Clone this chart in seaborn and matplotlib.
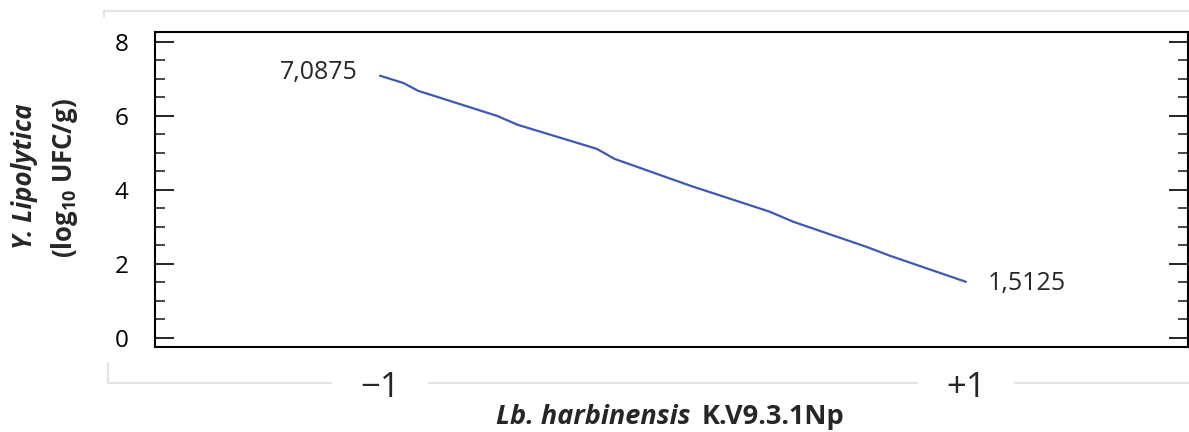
import matplotlib.pyplot as plt
import pandas as pd
import seaborn as sns
from matplotlib.lines import Line2D
from matplotlib.ticker import MultipleLocator

sns.set_style("white")
plt.rcParams['font.family'] = ['Open Sans', 'DejaVu Sans']
plt.rcParams['mathtext.fontset'] = 'custom'
plt.rcParams['mathtext.bf'] = 'Open Sans:bold'
plt.rcParams['mathtext.rm'] = 'Open Sans:bold'
plt.rcParams['mathtext.default'] = 'bf'

# values
harbinensis = [-1.0, -0.92, -0.87, -0.60, -0.53, -0.26, -0.20, 0.06, 0.33, 0.41, 0.66, 0.74, 1.0]
lipolytica = [7.0875, 6.89, 6.68, 6.00, 5.76, 5.11, 4.84, 4.11, 3.41, 3.14, 2.46, 2.22, 1.5125]
x_ticks = [-1, 1]
x_ticklabels = ['\u22121', '+1']
start_label = '7,0875'
end_label = '1,5125'

df = pd.DataFrame({'x': harbinensis, 'y': lipolytica})

fig = plt.figure(figsize=(11.89, 4.32), dpi=100)
ax = fig.add_axes([155 / 1189, 1 - 347 / 432, 1033 / 1189, 315 / 432])

sns.lineplot(data=df, x='x', y='y', ax=ax, color='#3a5ab4', linewidth=1.6, sort=False)

ax.set_xlim(-1.768, 1.758)
ax.set_ylim(-0.25, 8.27)
ax.set_xlabel('')
ax.set_ylabel('')

for s in ax.spines.values():
    s.set_visible(True)
    s.set_color('black')
    s.set_linewidth(1.5)

ax.yaxis.set_major_locator(MultipleLocator(2))
ax.yaxis.set_minor_locator(MultipleLocator(0.5))
ax.tick_params(axis='y', which='major', direction='in', length=14, width=1.2,
               left=True, right=True, labelsize=17.5, pad=19, colors='black')
ax.tick_params(axis='y', which='minor', direction='in', length=7, width=1.2,
               left=True, right=True)

ax.set_xticks(x_ticks)
ax.set_xticklabels(x_ticklabels)
ax.tick_params(axis='x', which='both', length=0, labelsize=25, pad=17)
for lab in ax.get_xticklabels():
    lab.set_bbox(dict(facecolor='white', edgecolor='none', boxstyle='square,pad=0.8'))

ax.annotate(start_label, xy=(harbinensis[0], lipolytica[0]), xytext=(-16, 2),
            textcoords='offset points', ha='right', va='center', fontsize=18)
ax.annotate(end_label, xy=(harbinensis[-1], lipolytica[-1]), xytext=(16, -1),
            textcoords='offset points', ha='left', va='center', fontsize=18)

# axis titles
fig.text(690 / 1189, 1 - 424 / 432, 'Lb. harbinensis', ha='right', va='baseline',
         fontsize=19.5, fontweight='bold', style='italic')
fig.text(702 / 1189, 1 - 424 / 432, 'K.V9.3.1Np', ha='left', va='baseline',
         fontsize=19.5, fontweight='bold')
fig.text(25 / 1189, 1 - 176 / 432, 'Y. Lipolytica', ha='center', va='center',
         rotation=90, fontsize=18.5, fontweight='bold', style='italic')
fig.text(64 / 1189, 1 - 178 / 432, '(log$_{10}$ UFC/g)', ha='center', va='center',
         rotation=90, fontsize=18.5, fontweight='bold')

# light chart-area frame
frame = '#e3e3e3'
fig.add_artist(Line2D([104 / 1189, 1], [1 - 11 / 432, 1 - 11 / 432], color=frame, lw=1.5,
                      transform=fig.transFigure, zorder=-1))
fig.add_artist(Line2D([104 / 1189, 104 / 1189], [1 - 11 / 432, 1 - 17 / 432], color=frame, lw=1.5,
                      transform=fig.transFigure, zorder=-1))
fig.add_artist(Line2D([108 / 1189, 1], [1 - 383 / 432, 1 - 383 / 432], color=frame, lw=1.5,
                      transform=fig.transFigure, zorder=-1))
fig.add_artist(Line2D([108 / 1189, 108 / 1189], [1 - 363 / 432, 1 - 383 / 432], color=frame, lw=1.5,
                      transform=fig.transFigure, zorder=-1))

fig.savefig('out.png', dpi=100)
